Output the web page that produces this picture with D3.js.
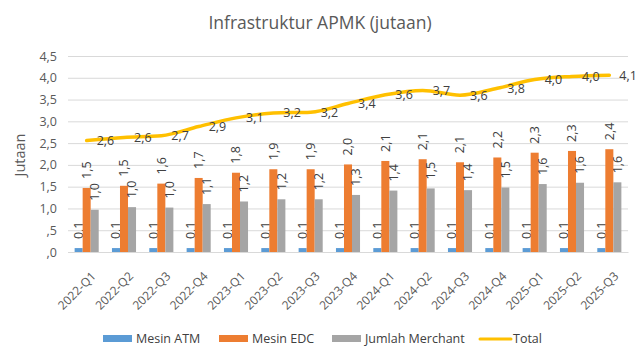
<!DOCTYPE html>
<html><head><meta charset="utf-8">
<script src="https://cdn.jsdelivr.net/npm/d3@7"></script>
<style>
body{margin:0;background:#fff;}
svg{display:block;font-family:"Open Sans",sans-serif;}
</style></head>
<body><svg id="c" width="640" height="360"></svg>
<script>
const categories = ["2022-Q1","2022-Q2","2022-Q3","2022-Q4","2023-Q1","2023-Q2","2023-Q3","2023-Q4","2024-Q1","2024-Q2","2024-Q3","2024-Q4","2025-Q1","2025-Q2","2025-Q3"];
const mesinATM = [0.09,0.09,0.09,0.09,0.09,0.09,0.09,0.09,0.09,0.09,0.09,0.09,0.09,0.09,0.09];
const mesinEDC = [1.47,1.52,1.57,1.70,1.82,1.90,1.90,2.01,2.09,2.13,2.06,2.17,2.28,2.32,2.36];
const jumlahMerchant = [0.97,1.03,1.02,1.10,1.16,1.21,1.21,1.31,1.41,1.46,1.42,1.48,1.56,1.59,1.60];
const total = [2.56,2.63,2.67,2.88,3.08,3.19,3.21,3.41,3.61,3.71,3.60,3.76,3.96,4.03,4.06];
const yTicks = [0,0.5,1,1.5,2,2.5,3,3.5,4,4.5];
const yTickLabels = [",0",",5","1,0","1,5","2,0","2,5","3,0","3,5","4,0","4,5"];
const seriesNames = ["Mesin ATM","Mesin EDC","Jumlah Merchant"];
const colors = ["#5B9BD5","#ED7D31","#A5A5A5"];
const lineColor = "#FFC000";
const title = "Infrastruktur APMK (jutaan)";
const yTitle = "Jutaan";

const fmt = v => v.toFixed(1).replace(".", ",");
const svg = d3.select("#c");
const mLeft = 68, mRight = 628, mTop = 56, mBottom = 252;

const x = d3.scaleBand().domain(categories).range([mLeft, mRight]).paddingInner(0.355).paddingOuter(0.1775);
const xs = d3.scaleBand().domain(seriesNames).range([0, x.bandwidth()]);
const y = d3.scaleLinear().domain([0, 4.5]).range([mBottom, mTop]);

// title
svg.append("text").attr("x", 320).attr("y", 29).attr("text-anchor", "middle")
  .attr("font-size", 17.5).attr("fill", "#595959").text(title);

// gridlines + y axis
const yAxis = d3.axisLeft(y).tickValues(yTicks).tickSize(-(mRight - mLeft)).tickFormat((d, i) => yTickLabels[i]);
const gy = svg.append("g").attr("transform", `translate(${mLeft},0)`).call(yAxis);
gy.select(".domain").remove();
gy.selectAll(".tick line").attr("stroke", "#d9d9d9").attr("stroke-width", 1);
gy.selectAll(".tick text").attr("x", -11).attr("font-size", 12.5).attr("fill", "#595959").attr("font-family", "Open Sans, sans-serif");

svg.append("text").attr("transform", "translate(25,155) rotate(-90)").attr("text-anchor", "middle")
  .attr("font-size", 14.5).attr("fill", "#595959").text(yTitle);

// x axis
const xAxis = d3.axisBottom(x).tickSize(0);
const gx = svg.append("g").attr("transform", `translate(0,${mBottom})`).call(xAxis);
gx.select(".domain").attr("stroke", "#d9d9d9");
gx.selectAll(".tick text").attr("font-size", 12).attr("fill", "#595959").attr("font-family", "Open Sans, sans-serif")
  .attr("text-anchor", "end").attr("dy", 0).attr("y", 0)
  .attr("transform", "translate(10,25) rotate(-45)");

// bars
const seriesData = [mesinATM, mesinEDC, jumlahMerchant];
seriesData.forEach((vals, si) => {
  const g = svg.append("g");
  g.selectAll("rect").data(vals).join("rect")
    .attr("x", (d, i) => x(categories[i]) + xs(seriesNames[si]))
    .attr("width", xs.bandwidth())
    .attr("y", d => y(d))
    .attr("height", d => y(0) - y(d))
    .attr("fill", colors[si]);
  g.selectAll("text").data(vals).join("text")
    .attr("transform", (d, i) => `translate(${x(categories[i]) + xs(seriesNames[si]) + xs.bandwidth() / 2},${y(d) - 9}) rotate(-90)`)
    .attr("dy", "0.35em").attr("text-anchor", "start")
    .attr("font-size", 12.5).attr("fill", "#404040").text(d => fmt(d));
});

// total line
const cx = i => x(categories[i]) + x.bandwidth() / 2;
const line = d3.line().x((d, i) => cx(i)).y(d => y(d)).curve(d3.curveMonotoneX);
svg.append("path").datum(total).attr("d", line).attr("fill", "none")
  .attr("stroke", lineColor).attr("stroke-width", 3.5).attr("stroke-linecap", "round");
svg.append("g").selectAll("text").data(total).join("text")
  .attr("x", (d, i) => cx(i) + 10).attr("y", d => y(d)).attr("dy", "0.35em")
  .attr("font-size", 12.5).attr("fill", "#404040").text(d => fmt(d));

// legend
const legendItems = [
  {name: seriesNames[0], color: colors[0], type: "rect", x: 103},
  {name: seriesNames[1], color: colors[1], type: "rect", x: 219},
  {name: seriesNames[2], color: colors[2], type: "rect", x: 332},
  {name: "Total", color: lineColor, type: "line", x: 480}
];
const lg = svg.append("g");
legendItems.forEach(it => {
  if (it.type === "rect") {
    lg.append("rect").attr("x", it.x).attr("y", 335).attr("width", 29).attr("height", 7).attr("fill", it.color);
  } else {
    lg.append("line").attr("x1", it.x).attr("x2", it.x + 31).attr("y1", 339).attr("y2", 339)
      .attr("stroke", it.color).attr("stroke-width", 3).attr("stroke-linecap", "round");
  }
  lg.append("text").attr("x", it.x + 33).attr("y", 339).attr("dy", "0.35em")
    .attr("font-size", 12.5).attr("fill", "#404040").text(it.name);
});
</script></body></html>
